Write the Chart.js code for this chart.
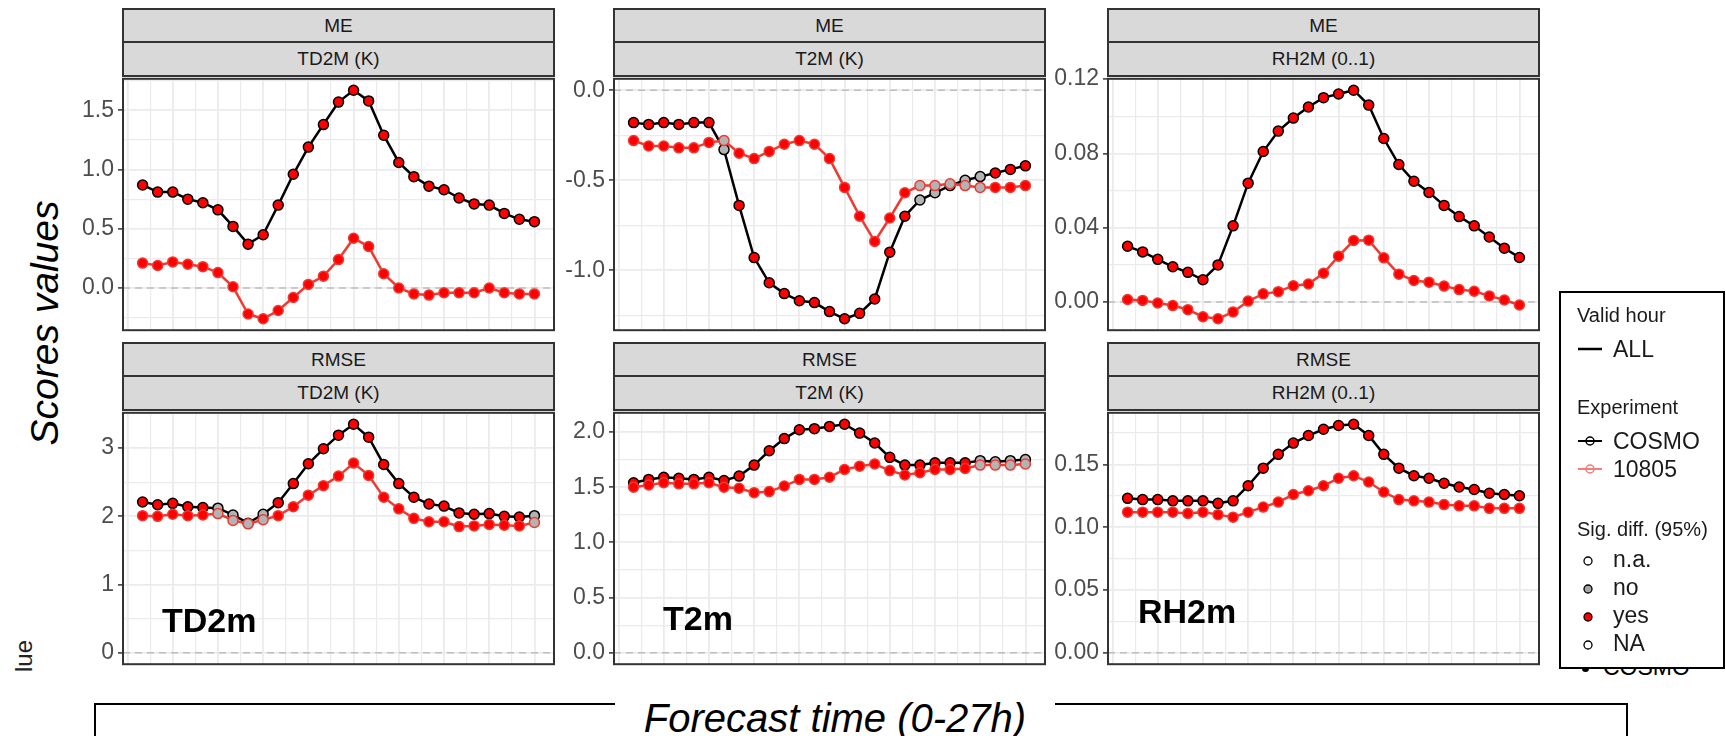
<!DOCTYPE html>
<html>
<head>
<meta charset="utf-8">
<title>Scores TD2M / T2M / RH2M</title>
<script src="https://cdn.jsdelivr.net/npm/chart.js@4.4.1/dist/chart.umd.min.js"></script>
<style>
  body { margin: 0; width: 1726px; height: 736px; overflow: hidden; background: #fff;
         position: relative; font-family: "Liberation Sans", Arial, sans-serif; }
  .strip { position: absolute; box-sizing: border-box; background: #d9d9d9; border: 2px solid #333;
           color: #1a1a1a; font-size: 19px; display: flex; align-items: center; justify-content: center; z-index: 2; }
  .panel { position: absolute; z-index: 1; }
  .txt { position: absolute; line-height: 1; white-space: nowrap; color: #000; }
  #legendBox { position: absolute; left: 1559px; top: 291px; width: 166px; height: 378px; box-sizing: border-box;
               border: 2px solid #000; background: #fff; z-index: 3; }
  #xBox { position: absolute; left: 94px; top: 703px; width: 1534px; height: 100px; box-sizing: border-box;
          border: 2px solid #000; }
</style>
</head>
<body>
<div id="xBox"></div>
<div id="legendBox"></div>
<svg id="legendMarks" width="1726" height="736" style="position:absolute;left:0;top:0;z-index:4;pointer-events:none"></svg>

<script>
// forecast hours on the x axis
const hours = [1, 2, 3, 4, 5, 6, 7, 8, 9, 10, 11, 12, 13, 14, 15, 16, 17, 18, 19, 20, 21, 22, 23, 24, 25, 26, 27];

// ME
const td2mMeCosmo = [0.87, 0.81, 0.81, 0.75, 0.72, 0.66, 0.52, 0.37, 0.45, 0.70, 0.96, 1.19, 1.38, 1.57, 1.67, 1.58, 1.29, 1.06, 0.94, 0.86, 0.83, 0.76, 0.71, 0.70, 0.63, 0.58, 0.56];
const td2mMe10805 = [0.21, 0.19, 0.22, 0.20, 0.18, 0.13, 0.01, -0.22, -0.26, -0.19, -0.08, 0.03, 0.10, 0.24, 0.42, 0.35, 0.12, 0.00, -0.05, -0.06, -0.04, -0.04, -0.04, 0.00, -0.04, -0.05, -0.05];
const t2mMeCosmo = [-0.18, -0.19, -0.18, -0.19, -0.18, -0.18, -0.33, -0.64, -0.93, -1.07, -1.13, -1.17, -1.18, -1.23, -1.27, -1.24, -1.16, -0.90, -0.70, -0.61, -0.57, -0.53, -0.50, -0.48, -0.46, -0.44, -0.42];
const t2mMe10805 = [-0.28, -0.31, -0.31, -0.32, -0.32, -0.29, -0.28, -0.35, -0.38, -0.34, -0.30, -0.28, -0.30, -0.38, -0.54, -0.70, -0.84, -0.71, -0.57, -0.53, -0.53, -0.52, -0.53, -0.54, -0.54, -0.54, -0.53];
const rh2mMeCosmo = [0.030, 0.027, 0.023, 0.019, 0.016, 0.012, 0.020, 0.041, 0.064, 0.081, 0.092, 0.099, 0.105, 0.110, 0.112, 0.114, 0.106, 0.088, 0.074, 0.065, 0.059, 0.052, 0.046, 0.041, 0.035, 0.029, 0.024];
const rh2mMe10805 = [0.0014, 0.0009, -0.0005, -0.0019, -0.0041, -0.0079, -0.0090, -0.0053, 0.0005, 0.0044, 0.0056, 0.0088, 0.0097, 0.0155, 0.0247, 0.0331, 0.0333, 0.0238, 0.0150, 0.0116, 0.0107, 0.0086, 0.0067, 0.0058, 0.0033, 0.0011, -0.0016];

// RMSE
const td2mRmseCosmo = [2.21, 2.17, 2.19, 2.14, 2.13, 2.12, 2.02, 1.90, 2.03, 2.20, 2.48, 2.77, 2.99, 3.19, 3.35, 3.16, 2.76, 2.48, 2.28, 2.18, 2.15, 2.05, 2.03, 2.04, 2.00, 1.99, 2.01];
const td2mRmse10805 = [2.01, 2.00, 2.03, 2.01, 2.02, 2.04, 1.94, 1.89, 1.95, 2.01, 2.14, 2.31, 2.45, 2.59, 2.78, 2.60, 2.28, 2.11, 1.97, 1.92, 1.92, 1.85, 1.86, 1.88, 1.87, 1.86, 1.91];
const t2mRmseCosmo = [1.54, 1.57, 1.59, 1.58, 1.57, 1.59, 1.56, 1.60, 1.70, 1.83, 1.94, 2.02, 2.03, 2.05, 2.07, 1.99, 1.90, 1.77, 1.70, 1.70, 1.72, 1.72, 1.72, 1.74, 1.73, 1.74, 1.75];
const t2mRmse10805 = [1.50, 1.52, 1.54, 1.53, 1.53, 1.54, 1.50, 1.49, 1.45, 1.46, 1.51, 1.57, 1.57, 1.59, 1.66, 1.69, 1.71, 1.65, 1.61, 1.63, 1.66, 1.66, 1.67, 1.70, 1.70, 1.70, 1.71];
const rh2mRmseCosmo = [0.123, 0.122, 0.122, 0.121, 0.121, 0.121, 0.119, 0.121, 0.133, 0.147, 0.158, 0.167, 0.173, 0.178, 0.181, 0.182, 0.173, 0.158, 0.147, 0.141, 0.139, 0.135, 0.132, 0.130, 0.127, 0.126, 0.125];
const rh2mRmse10805 = [0.112, 0.112, 0.112, 0.112, 0.111, 0.112, 0.110, 0.108, 0.112, 0.116, 0.120, 0.126, 0.129, 0.133, 0.139, 0.141, 0.136, 0.128, 0.122, 0.121, 0.120, 0.118, 0.117, 0.117, 0.115, 0.115, 0.115];

// hours where the difference is not significant ("no"), everything else is "yes"
const t2mMeNotSig = [6, 19, 20, 21, 22, 23];
const td2mRmseNotSig = [5, 6, 7, 8, 26];
const t2mRmseNotSig = [23, 24, 25, 26];

// y tick labels per panel
const td2mMeTicks = ['0.0', '0.5', '1.0', '1.5'];
const t2mMeTicks = ['-1.0', '-0.5', '0.0'];
const rh2mMeTicks = ['0.00', '0.04', '0.08', '0.12'];
const td2mRmseTicks = ['0', '1', '2', '3'];
const t2mRmseTicks = ['0.0', '0.5', '1.0', '1.5', '2.0'];
const rh2mRmseTicks = ['0.00', '0.05', '0.10', '0.15'];

const FONT = '"Liberation Sans", Arial, sans-serif';
const RED_LINE = '#ef3a33';
const SIG_FILL = { yes: '#ff0000', no: '#b3b3b3' };

const colLeft = [123, 614, 1108];
const stripTop = [8, 342];
const plotTop = [76, 410];
const PANEL_W = 431, PANEL_H = 257, AXIS_W = 60, PAD = 15;

const panels = [
  { score: 'ME', param: 'TD2M (K)', cosmo: td2mMeCosmo, exp: td2mMe10805, ticks: td2mMeTicks, notSig: [], row: 0, col: 0 },
  { score: 'ME', param: 'T2M (K)', cosmo: t2mMeCosmo, exp: t2mMe10805, ticks: t2mMeTicks, notSig: t2mMeNotSig, row: 0, col: 1 },
  { score: 'ME', param: 'RH2M (0..1)', cosmo: rh2mMeCosmo, exp: rh2mMe10805, ticks: rh2mMeTicks, notSig: [], row: 0, col: 2 },
  { score: 'RMSE', param: 'TD2M (K)', cosmo: td2mRmseCosmo, exp: td2mRmse10805, ticks: td2mRmseTicks, notSig: td2mRmseNotSig, row: 1, col: 0 },
  { score: 'RMSE', param: 'T2M (K)', cosmo: t2mRmseCosmo, exp: t2mRmse10805, ticks: t2mRmseTicks, notSig: t2mRmseNotSig, row: 1, col: 1 },
  { score: 'RMSE', param: 'RH2M (0..1)', cosmo: rh2mRmseCosmo, exp: rh2mRmse10805, ticks: rh2mRmseTicks, notSig: [], row: 1, col: 2 }
];

// x range with ggplot style 5% expansion, grid every 1.5 h
const xSpan = hours[hours.length - 1] - hours[0];
const xMin = hours[0] - 0.05 * xSpan, xMax = hours[hours.length - 1] + 0.05 * xSpan;
const xGrid = [];
for (let v = 0; v <= xMax; v += 1.5) xGrid.push(v);

// zero reference line and the dark panel frame
const panelFrame = {
  id: 'panelFrame',
  beforeDatasetsDraw(chart) {
    const { ctx, chartArea: a, scales: { y } } = chart;
    const y0 = y.getPixelForValue(0);
    ctx.save();
    ctx.strokeStyle = '#bdbdbd';
    ctx.lineWidth = 1.5;
    ctx.setLineDash([7, 5]);
    ctx.beginPath();
    ctx.moveTo(a.left, y0);
    ctx.lineTo(a.right, y0);
    ctx.stroke();
    ctx.restore();
  },
  afterDraw(chart) {
    const { ctx, chartArea: a } = chart;
    ctx.save();
    ctx.strokeStyle = '#333';
    ctx.lineWidth = 2;
    ctx.strokeRect(a.left, a.top, a.right - a.left, a.bottom - a.top);
    ctx.restore();
  }
};

function addDiv(cls, css, text) {
  const d = document.createElement('div');
  d.className = cls;
  Object.assign(d.style, css);
  if (text !== undefined) d.textContent = text;
  document.body.appendChild(d);
  return d;
}

// text placed by its baseline (line-height 1, Liberation Sans metrics)
function putText(text, x, baseline, size, extra) {
  return addDiv('txt', Object.assign({ left: x + 'px', top: (baseline - 0.8465 * size) + 'px', fontSize: size + 'px' }, extra || {}), text);
}

function near(a, b) { return Math.abs(a - b) < 1e-9; }

panels.forEach(p => {
  const left = colLeft[p.col];
  const st = stripTop[p.row];
  addDiv('strip', { left: (left - 1) + 'px', top: st + 'px', width: (PANEL_W + 2) + 'px', height: '35px' }, p.score);
  addDiv('strip', { left: (left - 1) + 'px', top: (st + 33) + 'px', width: (PANEL_W + 2) + 'px', height: '36px' }, p.param);

  const all = p.cosmo.concat(p.exp, [0]);
  const lo = Math.min(...all), hi = Math.max(...all);
  const yMin = lo - 0.05 * (hi - lo), yMax = hi + 0.05 * (hi - lo);

  const majors = p.ticks.map(Number);
  const step = majors[1] - majors[0];
  const yGrid = [];
  majors.forEach(v => { yGrid.push({ value: v, major: true }); yGrid.push({ value: v + step / 2, major: false }); });
  yGrid.push({ value: majors[0] - step / 2, major: false });
  const yTicks = yGrid.filter(t => t.value >= yMin && t.value <= yMax).sort((a, b) => a.value - b.value);
  const isMajor = v => majors.some(m => near(m, v));

  const holder = addDiv('panel', { left: (left - AXIS_W) + 'px', top: (plotTop[p.row] - PAD) + 'px' });
  const canvas = document.createElement('canvas');
  canvas.width = AXIS_W + PANEL_W + 6;
  canvas.height = PANEL_H + 2 * PAD;
  holder.appendChild(canvas);

  const fills = hours.map((h, i) => p.notSig.includes(i) ? SIG_FILL.no : SIG_FILL.yes);

  new Chart(canvas, {
    type: 'line',
    data: {
      datasets: [
        {
          label: '10805',
          data: hours.map((h, i) => ({ x: h, y: p.exp[i] })),
          borderColor: RED_LINE, borderWidth: 2.5,
          pointRadius: 5, pointBorderWidth: 1.5,
          pointBackgroundColor: fills, pointBorderColor: RED_LINE,
          order: 1
        },
        {
          label: 'COSMO',
          data: hours.map((h, i) => ({ x: h, y: p.cosmo[i] })),
          borderColor: '#000', borderWidth: 2.5,
          pointRadius: 5, pointBorderWidth: 1.5,
          pointBackgroundColor: fills, pointBorderColor: '#000',
          order: 2
        }
      ]
    },
    options: {
      responsive: false, animation: false, devicePixelRatio: 1,
      layout: { padding: { top: PAD, bottom: PAD, left: 0, right: 6 }, autoPadding: false },
      plugins: { legend: { display: false }, tooltip: { enabled: false } },
      scales: {
        x: {
          type: 'linear', min: xMin, max: xMax,
          afterBuildTicks: s => { s.ticks = xGrid.map(v => ({ value: v })); },
          afterFit: s => { s.height = 0; },
          ticks: { display: false },
          grid: {
            drawTicks: false,
            color: '#ebebeb',
            lineWidth: c => (c.tick && near(c.tick.value % 3, 0)) ? 1.8 : 1.2
          },
          border: { display: false }
        },
        y: {
          type: 'linear', min: yMin, max: yMax,
          afterBuildTicks: s => { s.ticks = yTicks.map(t => ({ value: t.value })); },
          afterFit: s => { s.width = AXIS_W; },
          ticks: {
            autoSkip: false, padding: 4, color: '#4d4d4d',
            font: { family: FONT, size: 23 },
            callback: v => {
              const k = majors.findIndex(m => near(m, v));
              return k >= 0 ? p.ticks[k] : '';
            }
          },
          grid: {
            color: '#ebebeb',
            lineWidth: c => (c.tick && isMajor(c.tick.value)) ? 1.8 : 1.2,
            tickLength: 5, tickWidth: 1.5,
            tickColor: c => (c.tick && isMajor(c.tick.value)) ? '#333' : 'rgba(0,0,0,0)'
          },
          border: { display: false }
        }
      }
    },
    plugins: [panelFrame]
  });
});

// variable names inside the RMSE panels
putText('TD2m', 162, 632, 34, { fontWeight: 'bold', zIndex: 2 });
putText('T2m', 663, 630, 34, { fontWeight: 'bold', zIndex: 2 });
putText('RH2m', 1138, 623, 34, { fontWeight: 'bold', zIndex: 2 });

// rotated y title
function rotText(text, cx, cy, size, extra) {
  const d = addDiv('txt', Object.assign({ left: cx + 'px', top: cy + 'px', fontSize: size + 'px',
    transform: 'translate(-50%, -50%) rotate(-90deg)' }, extra || {}), text);
  return d;
}
rotText('Scores values', 44, 323, 39, { fontStyle: 'italic' });
rotText('lue', 24, 656, 24, { color: '#222' });

// x title sitting in the gap of the box line
addDiv('txt', { left: '615px', top: (732 - 0.8465 * 40) + 'px', width: '440px', textAlign: 'center',
  fontSize: '40px', fontStyle: 'italic', background: '#fff' }, 'Forecast time (0-27h)');

// partly hidden entry under the legend box
addDiv('txt', { left: '1582px', top: '665px', width: '7px', height: '7px', borderRadius: '50%', background: '#000', zIndex: 2 });
putText('COSMO', 1603, 675, 23, { zIndex: 2 });

// legend
const legendTitles = [['Valid hour', 322], ['Experiment', 414], ['Sig. diff. (95%)', 536]];
legendTitles.forEach(([t, b]) => putText(t, 1577, b, 20, { zIndex: 4, color: '#1a1a1a' }));
const legendItems = [['ALL', 357], ['COSMO', 449], ['10805', 477], ['n.a.', 567], ['no', 595], ['yes', 623], ['NA', 651]];
legendItems.forEach(([t, b]) => putText(t, 1613, b, 23, { zIndex: 4, color: '#1a1a1a' }));

const svg = document.getElementById('legendMarks');
const NS = 'http://www.w3.org/2000/svg';
function mark(tag, attrs) {
  const e = document.createElementNS(NS, tag);
  for (const k in attrs) e.setAttribute(k, attrs[k]);
  svg.appendChild(e);
}
mark('line', { x1: 1578, x2: 1602, y1: 349, y2: 349, stroke: '#000', 'stroke-width': 2.5 });
mark('line', { x1: 1578, x2: 1602, y1: 441, y2: 441, stroke: '#000', 'stroke-width': 2 });
mark('circle', { cx: 1590, cy: 441, r: 4, fill: 'none', stroke: '#000', 'stroke-width': 1.5 });
mark('line', { x1: 1578, x2: 1602, y1: 469, y2: 469, stroke: '#f47d76', 'stroke-width': 2 });
mark('circle', { cx: 1590, cy: 469, r: 4, fill: 'none', stroke: '#f47d76', 'stroke-width': 1.5 });
const sigFills = [['#fff', 561], ['#a6a6a6', 589], ['#ff0000', 617], ['#fff', 645]];
sigFills.forEach(([f, y]) => mark('circle', { cx: 1588, cy: y, r: 4, fill: f, stroke: '#000', 'stroke-width': 1.3 }));
</script>
</body>
</html>
